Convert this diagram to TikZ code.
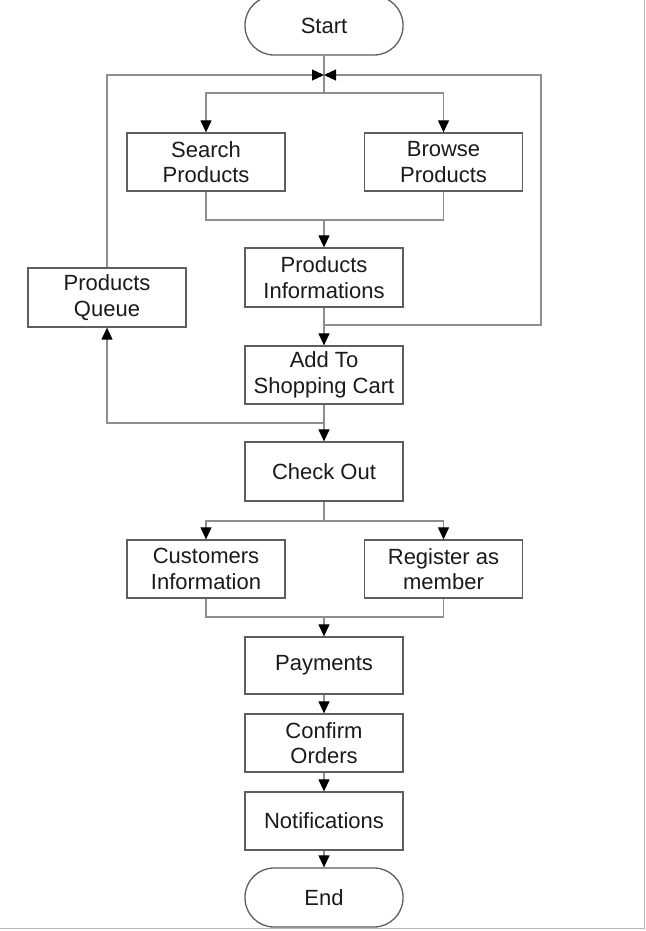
\documentclass[tikz,border=0pt]{standalone}
\usepackage{fontspec}
\setmainfont{Liberation Sans}
\usetikzlibrary{arrows.meta}
\definecolor{linegray}{HTML}{8E8E8E}
\definecolor{boxgray}{HTML}{5E5E5E}
\definecolor{txt}{HTML}{1A1A1A}
\definecolor{framegray}{HTML}{B8B8B8}
\begin{document}
\begin{tikzpicture}[x=1pt,y=-1pt,
  box/.style={draw=boxgray, line width=1.3pt, fill=white, minimum width=158pt, minimum height=58pt,
    inner sep=0pt, align=center, text=txt, font=\fontsize{22pt}{25.5pt}\selectfont},
  term/.style={box, rounded corners=29pt, minimum height=59pt},
  conn/.style={draw=linegray, line width=1.2pt},
  arr/.style={conn, -{Triangle[length=12pt,width=11pt,color=black]}}]
\useasboundingbox (0,0) rectangle (645,931);
\draw[framegray, line width=1pt] (644.5,0) -- (644.5,928.5) -- (0,928.5);

% nodes
\node[term] (start) at (324,25.5) {Start};
\node[box] (search) at (206,162) {Search\\Products};
\node[box] (browse) at (443.5,162) {Browse\\Products};
\node[box, minimum height=59pt] (pinfo) at (324,277.5) {Products\\Informations};
\node[box, minimum height=59pt] (pqueue) at (107,297.5) {Products\\Queue};
\node[box] (cart) at (324,375) {Add To\\Shopping Cart};
\node[box, minimum height=59pt] (checkout) at (324,471.5) {Check Out};
\node[box] (cust) at (206,569) {Customers\\Information};
\node[box] (reg) at (443.5,569) {Register as\\member};
\node[box, minimum height=57pt] (pay) at (324,665.5) {Payments};
\node[box] (confirm) at (324,743) {Confirm\\Orders};
\node[box] (notif) at (324,821) {Notifications};
\node[term] (end) at (324,897.5) {End};

% junction coordinates
\coordinate (jc) at (324,75);
\coordinate (s1) at (324,93);
\coordinate (m1) at (324,220);
\coordinate (r1) at (324,325);
\coordinate (rc1) at (541,325);
\coordinate (rc2) at (541,75);
\coordinate (l1) at (324,423);
\coordinate (s2) at (324,521);
\coordinate (m2) at (324,617);

% connectors
\draw[conn] (start) -- (s1);
\draw[arr] (s1) -| (search);
\draw[arr] (s1) -| (browse);
\draw[conn] (search) |- (m1);
\draw[conn] (browse) |- (m1);
\draw[arr] (m1) -- (pinfo);
\draw[arr] (pinfo) -- (cart);
\draw[arr] (r1) -- (rc1) -- (rc2) -- (jc);
\draw[arr] (pqueue) |- (jc);
\draw[arr] (cart) -- (checkout);
\draw[arr] (l1) -| (pqueue);
\draw[conn] (checkout) -- (s2);
\draw[arr] (s2) -| (cust);
\draw[arr] (s2) -| (reg);
\draw[conn] (cust) |- (m2);
\draw[conn] (reg) |- (m2);
\draw[arr] (m2) -- (pay);
\draw[arr] (pay) -- (confirm);
\draw[arr] (confirm) -- (notif);
\draw[arr] (notif) -- (end);
\end{tikzpicture}
\end{document}
